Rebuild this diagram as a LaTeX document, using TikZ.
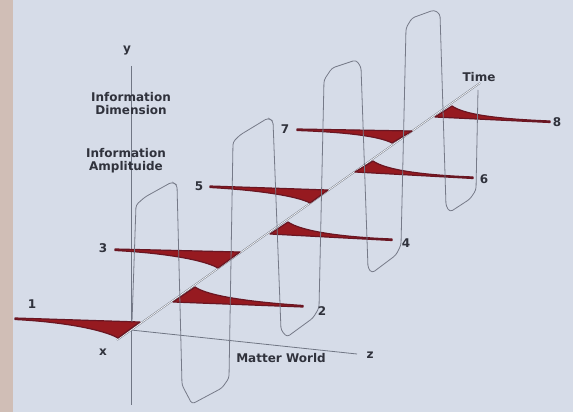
\documentclass[tikz,border=0pt]{standalone}
\usepackage{fontspec}
\setmainfont{DejaVu Sans}
\definecolor{slide}{RGB}{214,220,232}
\definecolor{edgestrip}{RGB}{208,190,182}
\definecolor{axisgray}{RGB}{112,118,132}
\definecolor{lobegray}{RGB}{118,122,136}
\definecolor{wavered}{RGB}{150,26,32}
\definecolor{wavedark}{RGB}{105,22,34}
\definecolor{labelgray}{RGB}{48,50,60}
\tikzset{
  lbl/.style={font=\bfseries\fontsize{12}{14}\selectfont,text=labelgray,inner sep=0pt},
  packet/.style={fill=wavered,draw=wavedark,line width=1.2pt,line join=round},
  lobe/.style={draw=lobegray,line width=0.8pt,rounded corners=3pt}
}

\begin{document}
\begin{tikzpicture}[x=1pt,y=-1pt]
  % slide background
  \fill[slide] (0,0) rectangle (573,412);
  \fill[edgestrip] (0,0) rectangle (13,412);
  \useasboundingbox (0,0) rectangle (573,412);

  \coordinate (O) at (131,330);
  \coordinate (Ytop) at (131,66);
  \coordinate (Ybot) at (131,405);
  \coordinate (Xend) at (117,340);
  \coordinate (Tend) at (480,83);
  \coordinate (Zend) at (357,354);

  % axes
  \draw[axisgray,line width=0.8pt] (Ytop) -- (Ybot);
  \draw[axisgray,line width=0.8pt] (O) -- (Zend);
  \draw[axisgray,line width=1.6pt] (Xend) -- (Tend);
  \draw[white!85!slide,line width=0.7pt] (Xend) -- (Tend);

  % wave packets, left side (peak down)
  \fill[packet] (15,318) -- (140,322) -- (118,338) .. controls (104,330) and (65,322) .. (15,319.5) -- cycle;
  \fill[packet] (115,249) -- (240,252) -- (218,268) .. controls (204,260) and (165,253) .. (115,250.5) -- cycle;
  \fill[packet] (210,186) -- (328,190) -- (310,203) .. controls (297,196) and (257,190) .. (210,187.5) -- cycle;
  \fill[packet] (297,129) -- (412,131) -- (392,143) .. controls (379,136) and (343,132) .. (297,130.5) -- cycle;
  % wave packets, right side (peak up)
  \fill[packet] (173,302) -- (195,287) .. controls (208,296) and (250,302) .. (303,305.5) -- (303,307) -- cycle;
  \fill[packet] (270,234) -- (288,222) .. controls (301,231) and (340,237) .. (392,239) -- (392,240.5) -- cycle;
  \fill[packet] (355,172) -- (373,161) .. controls (386,170) and (422,175) .. (473,177) -- (473,178.5) -- cycle;
  \fill[packet] (435,117) -- (452,106) .. controls (465,115) and (500,119) .. (550,121) -- (550,122.5) -- cycle;

  % information wave outline
  \draw[lobe] (132,322) -- (136,205) -- (145,197) -- (172,182) -- (177,185)
    -- (182,385) -- (192,404) -- (222,388) -- (229,378)
    -- (233,142) -- (240,135) -- (268,118) -- (273,121)
    -- (281,330) -- (287,337) -- (313,318) -- (319,308)
    -- (324,80) -- (332,68) -- (356,60) -- (361,67)
    -- (368,268) -- (372,273) -- (396,255) -- (401,245)
    -- (406,28) -- (412,18) -- (434,10) -- (440,14)
    -- (446,206) -- (450,212) -- (470,199) -- (476,190) -- (478,90);

  % labels
  \node[lbl] (ylbl) at (127,51) {y};
  \node[lbl] (xlbl) at (103,352) {x};
  \node[lbl] (zlbl) at (370,355) {z};
  \node[lbl] (timelbl) at (479,77) {Time};
  \node[lbl] (matter) at (281,358) {Matter World};
  \node[lbl,align=center] (infodim) at (131,104) {Information\\[-1pt]Dimension};
  \node[lbl,align=center] (infoamp) at (126,161) {Information\\[-1pt]Amplituide};
  \node[lbl] (n1) at (32,304) {1};
  \node[lbl] (n2) at (322,311) {2};
  \node[lbl] (n3) at (103,248) {3};
  \node[lbl] (n4) at (406,243) {4};
  \node[lbl] (n5) at (199,186) {5};
  \node[lbl] (n6) at (484,179) {6};
  \node[lbl] (n7) at (285,129) {7};
  \node[lbl] (n8) at (557,122) {8};
\end{tikzpicture}
\end{document}
